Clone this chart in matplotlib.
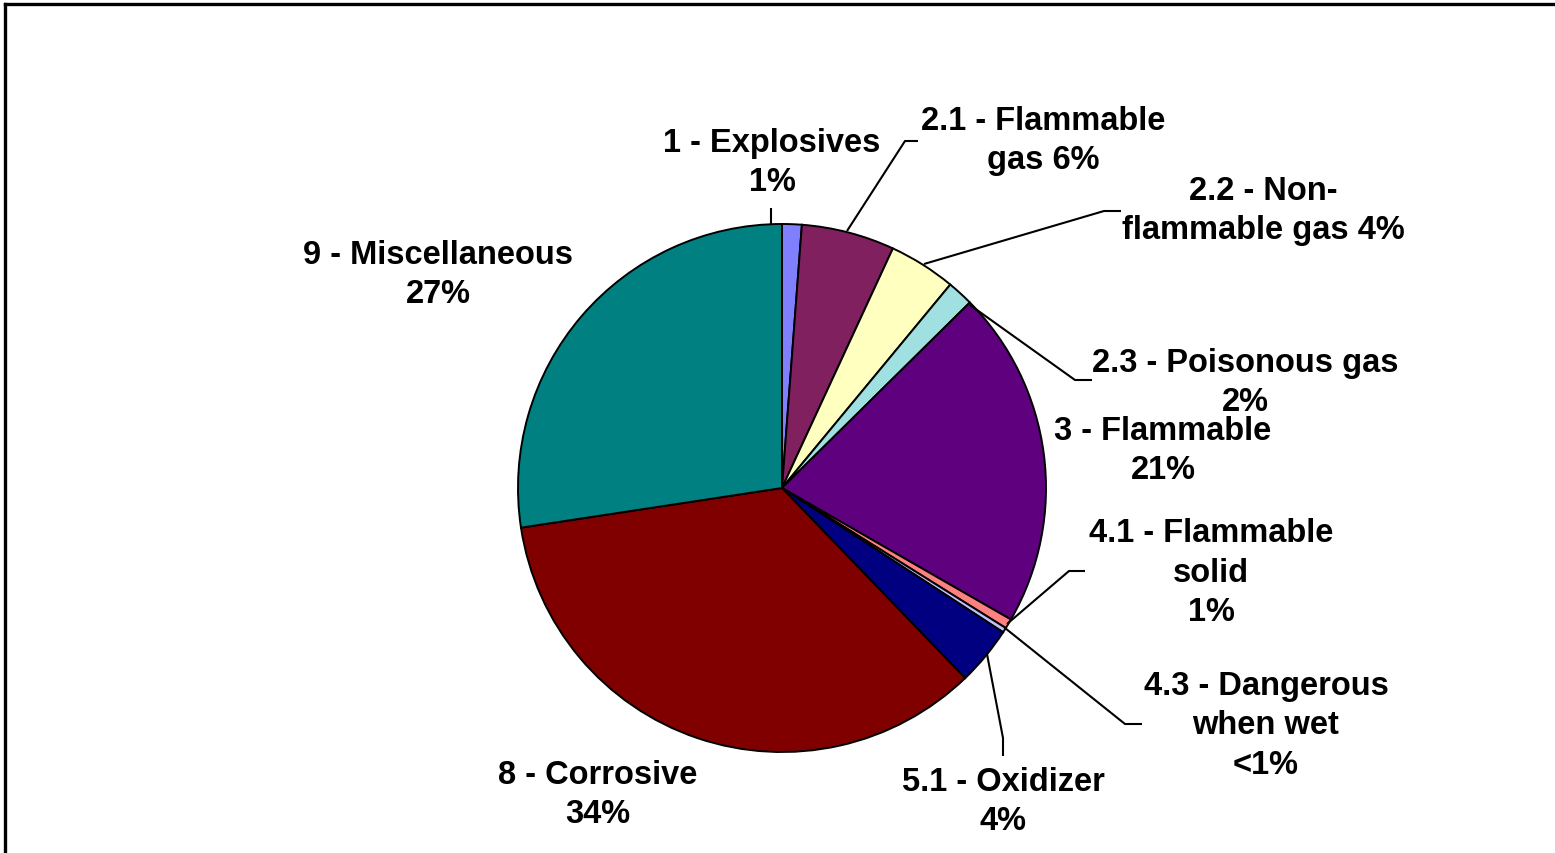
import matplotlib.pyplot as plt
from matplotlib.lines import Line2D

# hazard classes, clockwise from 12 o'clock
classes = ["1 - Explosives", "2.1 - Flammable gas", "2.2 - Non-flammable gas",
           "2.3 - Poisonous gas", "3 - Flammable", "4.1 - Flammable solid",
           "4.3 - Dangerous when wet", "5.1 - Oxidizer", "8 - Corrosive",
           "9 - Miscellaneous"]
shares = [1.2, 5.7, 4.1, 1.6, 20.7, 0.6, 0.3, 3.6, 34.8, 27.4]
label_text = ["1 - Explosives\n1%", "2.1 - Flammable\ngas 6%",
              "2.2 - Non-\nflammable gas 4%", "2.3 - Poisonous gas\n2%",
              "3 - Flammable\n21%", "4.1 - Flammable\nsolid\n1%",
              "4.3 - Dangerous\nwhen wet\n<1%", "5.1 - Oxidizer\n4%",
              "8 - Corrosive\n34%", "9 - Miscellaneous\n27%"]
colors = ["#8080FF", "#80205F", "#FFFFC0", "#A0E0E0", "#5F007F",
          "#FF8080", "#C0C0FF", "#000080", "#800000", "#008080"]

W, H = 1555, 854
fig = plt.figure(figsize=(W / 100, H / 100), dpi=100)
ax = fig.add_axes([0, 0, 1, 1])


def py(y):
    # picture rows -> axes y
    return H - y


ax.pie(shares, colors=colors, startangle=90, counterclock=False,
       center=(782, py(489)), radius=264, frame=True,
       wedgeprops=dict(edgecolor='black', linewidth=1.4))
ax.set_xlim(0, W)
ax.set_ylim(0, H)
ax.axis('off')

# label centres (x, y of first line centre) and leader paths, in picture pixels
label_pos = [(772, 143), (1043, 121), (1263, 191), (1245, 363), (1163, 431),
             (1211, 533), (1266, 686), (1003, 782), (598, 775), (438, 255)]
leaders = [
    [(771, 226), (771, 209)],
    [(847, 232), (905, 142), (918, 142)],
    [(924, 265), (1104, 212), (1121, 212)],
    [(970, 306), (1075, 381), (1092, 381)],
    None,
    [(1007, 625), (1069, 572), (1085, 572)],
    [(1005, 629), (1125, 725), (1142, 725)],
    [(987, 655), (1003, 739), (1003, 757)],
    None,
    None,
]

for text, (lx, ly), path in zip(label_text, label_pos, leaders):
    n = text.count('\n') + 1
    # lines are 40 px apart; centre the block so the first line sits at ly
    ax.text(lx, py(ly + (n - 1) * 20), text, ha='center', va='center',
            fontsize=23.5, fontweight='bold', family='Liberation Sans',
            linespacing=1.36, multialignment='center', color='black')
    if path is not None:
        xs = [p[0] for p in path]
        ys = [py(p[1]) for p in path]
        ax.plot(xs, ys, color='black', lw=1.5, solid_capstyle='butt')

# chart area frame (only top and left visible)
fig.add_artist(Line2D([4.5 / W, 1], [1 - 4.5 / H, 1 - 4.5 / H], color='black', lw=2.4))
fig.add_artist(Line2D([4.5 / W, 4.5 / W], [0, 1 - 4.5 / H], color='black', lw=2.4))

fig.savefig('out.png', dpi=100)
